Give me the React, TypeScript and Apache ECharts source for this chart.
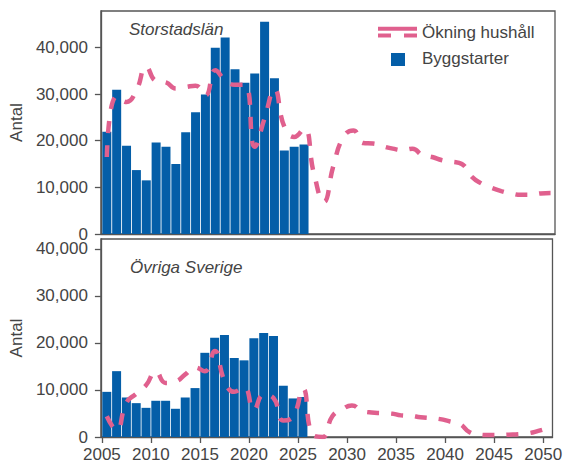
import React, { useEffect, useRef } from "react";
import * as echarts from "echarts";

const years: number[] = [];
for (let y = 2005; y <= 2025; y++) years.push(y);
const lineYears: number[] = [];
for (let y = 2005; y <= 2050; y++) lineYears.push(y);

const barsStorstad = [21.9, 30.9, 18.9, 13.7, 11.5, 19.6, 18.7, 15.0, 21.8, 26.1, 29.9, 39.9, 42.1, 35.3, 32.4, 34.4, 45.5, 33.4, 17.9, 18.7, 19.2];
const barsOvriga = [9.6, 14.0, 8.4, 7.2, 6.2, 7.7, 7.7, 6.0, 8.4, 10.4, 17.9, 21.1, 21.7, 16.8, 16.3, 21.0, 22.1, 21.5, 10.9, 8.2, 8.5];

const lineStorstad = [16.5, 29.5, 28.3, 30.8, 35.8, 32.8, 32.5, 31.2, 31.5, 31.8, 29.7, 35.1, 33.0, 32.0, 32.0, 18.7, 24.8, 31.0, 23.0, 20.8, 22.6, 13.0, 6.9, 14.8, 20.8, 22.2, 19.5, 19.4, 18.8, 18.3, 18.0, 18.3, 16.9, 16.5, 15.8, 15.5, 15.0, 12.3, 10.8, 9.9, 9.2, 8.7, 8.4, 8.4, 8.7, 8.8];
const lineOvriga = [4.4, 1.5, 7.3, 9.2, 11.0, 13.9, 11.5, 11.8, 13.3, 14.8, 14.0, 18.3, 12.0, 9.6, 10.6, 5.8, 9.0, 8.3, 3.5, 4.3, 10.3, 0.5, 0.0, 4.4, 5.9, 6.7, 5.6, 5.2, 5.1, 5.0, 4.6, 4.5, 4.2, 4.0, 3.8, 3.3, 2.8, 1.0, 0.5, 0.4, 0.4, 0.5, 0.6, 0.8, 1.3, 1.9];

const xTicks = [2005, 2010, 2015, 2020, 2025, 2030, 2035, 2040, 2045, 2050];
const yTicks = [0, 10000, 20000, 30000, 40000];
const panelTitles = ["Storstadslän", "Övriga Sverige"];
const seriesNames = ["Ökning hushåll", "Byggstarter"];

const BLUE = "#045ea8";
const PINK = "#e0608e";
const TEXT = "#444444";
const AXIS = "#555555";
const FONT = "'Liberation Sans', Arial, sans-serif";

export default function App() {
  const ref = useRef<HTMLDivElement>(null);
  useEffect(() => {
    if (!ref.current) return;
    const chart = echarts.init(ref.current, null, { renderer: "svg" });
    const grids = [
      { left: 97, top: 11, width: 458, height: 223 },
      { left: 97, top: 239, width: 458, height: 198 },
    ];
    const yMax = [47800, 42100];
    const xAxis = grids.map((_, i) => ({
      type: "value",
      gridIndex: i,
      min: 2004.9,
      max: 2050.95,
      splitLine: { show: false },
      axisLine: { show: true, onZero: false, lineStyle: { color: AXIS, width: 1.3 } },
      axisTick: {
        show: i === 1,
        customValues: xTicks,
        length: 6,
        lineStyle: { color: AXIS, width: 1.3 },
      },
      axisLabel: {
        show: i === 1,
        customValues: xTicks,
        formatter: (v: number) => String(v),
        color: TEXT,
        fontSize: 17,
        fontFamily: FONT,
        margin: 9,
      },
    }));
    const yAxis = grids.map((_, i) => ({
      type: "value",
      gridIndex: i,
      min: 0,
      max: yMax[i],
      name: "Antal",
      nameLocation: "middle",
      nameRotate: 90,
      nameGap: 60,
      nameTextStyle: { color: TEXT, fontSize: 17, fontFamily: FONT },
      splitLine: { show: false },
      axisLine: { show: true, lineStyle: { color: AXIS, width: 1.3 } },
      axisTick: { show: true, customValues: yTicks, length: 6, lineStyle: { color: AXIS, width: 1.3 } },
      axisLabel: {
        customValues: yTicks,
        formatter: (v: number) => v.toLocaleString("en-US"),
        color: TEXT,
        fontSize: 17,
        lineHeight: 14,
        fontFamily: FONT,
        margin: 13,
      },
    }));
    const barData = [barsStorstad, barsOvriga];
    const lineData = [lineStorstad, lineOvriga];
    const series: any[] = [];
    for (let i = 0; i < 2; i++) {
      series.push({
        type: "bar",
        name: seriesNames[1],
        xAxisIndex: i,
        yAxisIndex: i,
        barWidth: 9,
        itemStyle: { color: BLUE },
        data: years.map((y, k) => [y + 0.5, barData[i][k] * 1000]),
        z: 2,
      });
      series.push({
        type: "line",
        name: seriesNames[0],
        xAxisIndex: i,
        yAxisIndex: i,
        symbol: "none",
        smooth: 0.5,
        lineStyle: { color: PINK, width: 4.5, type: [12, 12], cap: "butt" },
        data: lineYears.map((y, k) => [y + 0.5, lineData[i][k] * 1000]),
        z: 3,
      });
    }
    chart.setOption({
      animation: false,
      backgroundColor: "#ffffff",
      grid: grids.map((g) => ({ ...g, show: true, borderColor: AXIS, borderWidth: 1.3, backgroundColor: "transparent" })),
      xAxis,
      yAxis,
      series,
      graphic: [
        {
          type: "text",
          left: 129,
          top: 21,
          style: { text: panelTitles[0], fill: TEXT, font: `italic 17px ${FONT}` },
        },
        {
          type: "text",
          left: 130,
          top: 259,
          style: { text: panelTitles[1], fill: TEXT, font: `italic 17px ${FONT}` },
        },
        {
          type: "line",
          shape: { x1: 378, y1: 28.7, x2: 417, y2: 28.7 },
          style: { stroke: PINK, lineWidth: 4 },
        },
        {
          type: "line",
          shape: { x1: 378, y1: 35.5, x2: 391, y2: 35.5 },
          style: { stroke: PINK, lineWidth: 4 },
        },
        {
          type: "line",
          shape: { x1: 404, y1: 35.5, x2: 417, y2: 35.5 },
          style: { stroke: PINK, lineWidth: 4 },
        },
        {
          type: "text",
          left: 422,
          top: 24,
          style: { text: seriesNames[0], fill: TEXT, font: `17px ${FONT}` },
        },
        {
          type: "rect",
          shape: { x: 391, y: 53, width: 14, height: 13 },
          style: { fill: BLUE },
        },
        {
          type: "text",
          left: 422,
          top: 50,
          style: { text: seriesNames[1], fill: TEXT, font: `17px ${FONT}` },
        },
      ],
    });
    return () => chart.dispose();
  }, []);
  return (
    <div
      ref={ref}
      style={{ position: "absolute", left: 0, top: 0, width: 565, height: 467, background: "#fff" }}
    />
  );
}
